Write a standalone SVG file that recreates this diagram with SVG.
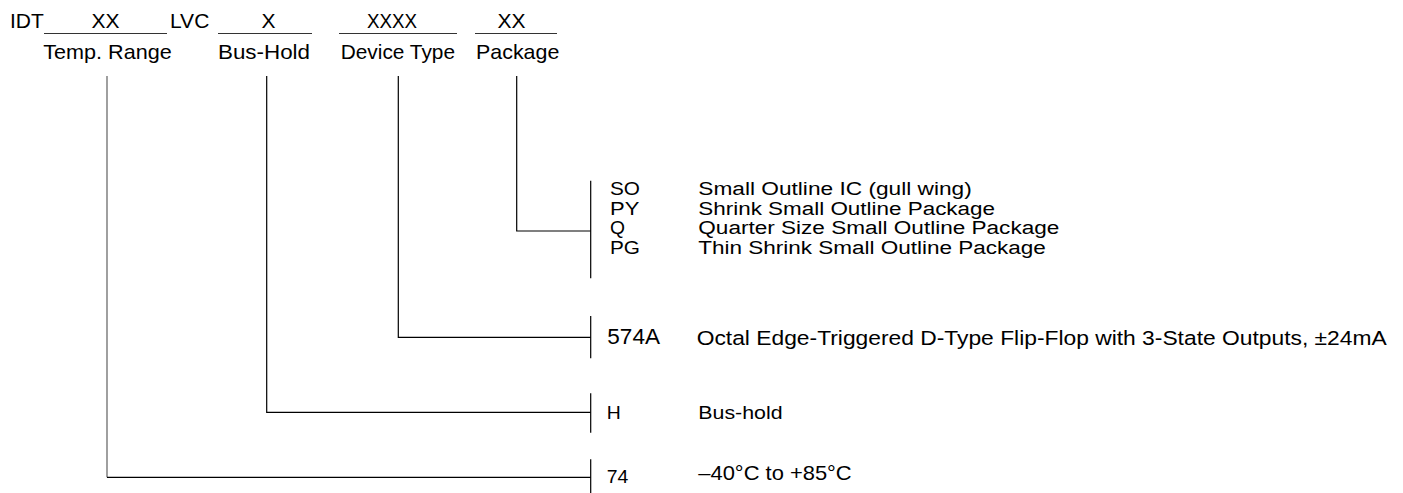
<svg xmlns="http://www.w3.org/2000/svg" width="1403" height="493" viewBox="0 0 1403 493">
<style>
text{font-family:"Liberation Sans",Arial,sans-serif;fill:#000}
.t{font-size:21px}
.m{text-anchor:middle}
.u{stroke:#333;stroke-width:1.2;fill:none}
.c{stroke:#000;stroke-width:1.2;fill:none}
.g{stroke:#777;stroke-width:1.4;fill:none}
</style>
<rect width="1403" height="493" fill="#fff"/>
<g id="header">
<text class="t" x="10" y="28">IDT</text>
<text class="t m" x="105.5" y="28">XX</text>
<text class="t" x="170" y="28">LVC</text>
<text class="t m" x="268.5" y="28">X</text>
<text class="t m" x="392" y="28" textLength="50" lengthAdjust="spacingAndGlyphs">XXXX</text>
<text class="t m" x="511.5" y="28">XX</text>
<line class="u" x1="44" y1="33.5" x2="167" y2="33.5"/>
<line class="u" x1="218" y1="33.5" x2="312" y2="33.5"/>
<line class="u" x1="339" y1="33.5" x2="457" y2="33.5"/>
<line class="u" x1="475" y1="33.5" x2="557" y2="33.5"/>
</g>
<g id="temp-range"><text class="t" x="43.3" y="59" textLength="128.4" lengthAdjust="spacingAndGlyphs">Temp. Range</text></g>
<g id="bus-hold-label"><text class="t" x="218" y="59" textLength="92" lengthAdjust="spacingAndGlyphs">Bus-Hold</text></g>
<g id="device-type"><text class="t" x="340.7" y="59" textLength="114.3" lengthAdjust="spacingAndGlyphs">Device Type</text></g>
<g id="package-label"><text class="t" x="476" y="59" textLength="83.3" lengthAdjust="spacingAndGlyphs">Package</text></g>
<g id="connectors">
<polyline class="c" points="516.7,76 516.7,231 590.7,231"/>
<polyline class="c" points="398.3,76 398.3,337.3 590.7,337.3"/>
<polyline class="c" points="266.7,76 266.7,412.3 590.7,412.3"/>
<line class="g" x1="107" y1="76" x2="107" y2="477.3"/>
<line class="c" x1="107" y1="477.3" x2="590.7" y2="477.3"/>
<line class="c" x1="590.7" y1="180.7" x2="590.7" y2="278.3"/>
<line class="c" x1="590.7" y1="316" x2="590.7" y2="358.3"/>
<line class="c" x1="590.7" y1="393.3" x2="590.7" y2="432.7"/>
<line class="c" x1="590.7" y1="459.3" x2="590.7" y2="493"/>
</g>
<g id="package-options" font-size="18">
<text x="610" y="195" textLength="30" lengthAdjust="spacingAndGlyphs">SO</text>
<text x="610" y="215" textLength="29.3" lengthAdjust="spacingAndGlyphs">PY</text>
<text x="610" y="234" textLength="15" lengthAdjust="spacingAndGlyphs">Q</text>
<text x="610" y="254" textLength="30" lengthAdjust="spacingAndGlyphs">PG</text>
<text x="698.3" y="195" textLength="273.4" lengthAdjust="spacingAndGlyphs">Small Outline IC (gull wing)</text>
<text x="698.3" y="215" textLength="296.7" lengthAdjust="spacingAndGlyphs">Shrink Small Outline Package</text>
<text x="698.3" y="234" textLength="361" lengthAdjust="spacingAndGlyphs">Quarter Size Small Outline Package</text>
<text x="698.3" y="254" textLength="347.6" lengthAdjust="spacingAndGlyphs">Thin Shrink Small Outline Package</text>
</g>
<g id="device-option">
<text x="607.3" y="344" font-size="22" textLength="52.7" lengthAdjust="spacingAndGlyphs">574A</text>
<text x="696.7" y="345" font-size="20.5" textLength="690" lengthAdjust="spacingAndGlyphs">Octal Edge-Triggered D-Type Flip-Flop with 3-State Outputs, ±24mA</text>
</g>
<g id="bushold-option">
<text x="606.7" y="419.3" font-size="19" textLength="14" lengthAdjust="spacingAndGlyphs">H</text>
<text x="698.3" y="419.3" font-size="19" textLength="84.3" lengthAdjust="spacingAndGlyphs">Bus-hold</text>
</g>
<g id="temp-option">
<text x="606.7" y="483.3" font-size="18" textLength="21.6" lengthAdjust="spacingAndGlyphs">74</text>
<text x="698.3" y="480" font-size="21" textLength="153.4" lengthAdjust="spacingAndGlyphs">–40°C to +85°C</text>
</g>
</svg>
